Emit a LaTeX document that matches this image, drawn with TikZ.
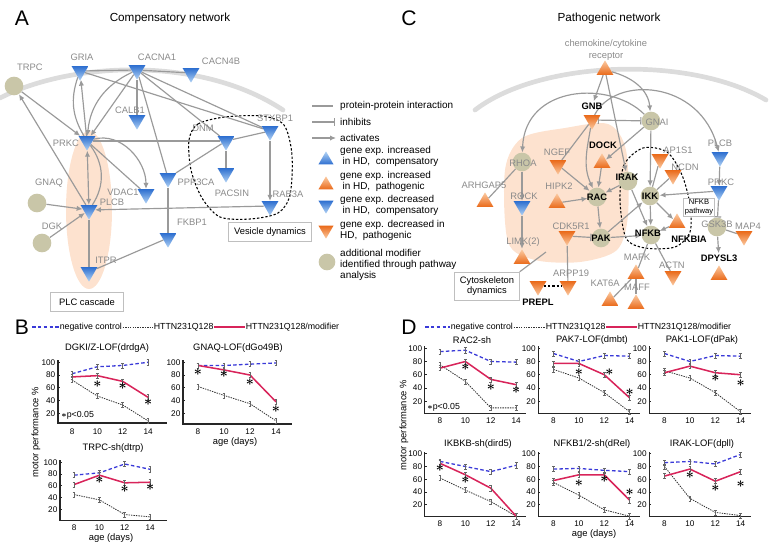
\documentclass[tikz,border=0pt]{standalone}
\usepackage{fontspec}
\setmainfont{Liberation Sans}
\usepackage{amsmath}
\usetikzlibrary{arrows.meta,shapes.geometric,backgrounds}

\definecolor{edgegray}{HTML}{9A9A9A}
\definecolor{labgray}{HTML}{8A8A8A}
\definecolor{compdark}{HTML}{2E6FD0}
\definecolor{complight}{HTML}{B3D4F5}
\definecolor{pathdark}{HTML}{EA6A1A}
\definecolor{pathlight}{HTML}{FBCBA3}
\definecolor{modfill}{HTML}{C9C6A8}
\definecolor{peach}{HTML}{FDE2CF}
\definecolor{membr}{HTML}{DCDCDC}
\definecolor{negblue}{HTML}{3A3AD8}
\definecolor{modred}{HTML}{D8245A}

% error bar mark for the motor performance curves
\pgfdeclareplotmark{ebar}{%
  \pgfpathmoveto{\pgfqpoint{0pt}{-\pgfplotmarksize}}%
  \pgfpathlineto{\pgfqpoint{0pt}{\pgfplotmarksize}}%
  \pgfpathmoveto{\pgfqpoint{-1.2pt}{\pgfplotmarksize}}%
  \pgfpathlineto{\pgfqpoint{1.2pt}{\pgfplotmarksize}}%
  \pgfpathmoveto{\pgfqpoint{-1.2pt}{-\pgfplotmarksize}}%
  \pgfpathlineto{\pgfqpoint{1.2pt}{-\pgfplotmarksize}}%
  \pgfusepathqstroke}

\tikzset{
  tri/.style={regular polygon,regular polygon sides=3,minimum size=0.58cm,inner sep=0pt,draw=none},
  dncomp/.style={tri,shape border rotate=180,top color=compdark,bottom color=complight},
  upcomp/.style={tri,top color=complight,bottom color=compdark},
  dnpath/.style={tri,shape border rotate=180,top color=pathdark,bottom color=pathlight},
  uppath/.style={tri,top color=pathlight,bottom color=pathdark},
  modif/.style={circle,fill=modfill,minimum size=0.56cm,inner sep=0pt},
  glab/.style={text=labgray,font=\fontsize{8}{9}\selectfont,inner sep=1pt},
  blab/.style={text=black,font=\fontsize{8}{9}\selectfont\bfseries,inner sep=1pt},
  ppi/.style={draw=edgegray,line width=1pt},
  act/.style={ppi,-{Latex[length=1.8mm,width=1.6mm]}},
  actboth/.style={ppi,{Latex[length=1.8mm,width=1.6mm]}-{Latex[length=1.8mm,width=1.6mm]}},
  inh/.style={ppi,-{Bar[width=2.2mm]}},
  inhboth/.style={ppi,{Bar[width=2.2mm]}-{Bar[width=2.2mm]}},
  membrane/.style={draw=membr,line width=4pt,line cap=round},
  loopline/.style={draw=black,line width=0.9pt,dash pattern=on 2pt off 1.6pt},
  boxlab/.style={draw=black!25,fill=white,font=\fontsize{8}{9}\selectfont,align=center,inner sep=2pt},
  panel/.style={font=\fontsize{18}{18}\selectfont,inner sep=0pt},
  nettitle/.style={font=\fontsize{10}{12}\selectfont,inner sep=0pt},
  legtext/.style={font=\fontsize{8.5}{9.5}\selectfont,anchor=west,align=left,inner sep=0pt},
  serieslab/.style={font=\fontsize{7.5}{8}\selectfont,anchor=west,inner sep=0.5pt},
  ctitle/.style={font=\fontsize{8}{9}\selectfont,inner sep=1pt},
  ticklab/.style={font=\fontsize{7}{8}\selectfont,inner sep=1pt},
  axtitle/.style={font=\fontsize{8}{9}\selectfont,inner sep=1pt},
  chartaxis/.style={draw=black!85,line width=1.1pt},
  charttick/.style={draw=black!85,line width=0.5pt},
  ebars/.style={mark=ebar,mark size=2.2pt,mark options={solid,draw=black!60,line width=0.45pt}},
  negleg/.style={draw=negblue,line width=1.1pt,dash pattern=on 3pt off 2pt},
  httleg/.style={draw=black!80,line width=0.7pt,dash pattern=on 1.2pt off 0.9pt},
  modleg/.style={draw=modred,line width=1.3pt},
  negline/.style={negleg,ebars},
  httline/.style={httleg,ebars},
  modline/.style={modleg,ebars},
  sig/.style={font=\fontsize{12}{12}\selectfont,inner sep=0pt}
}

% axes of one motor performance chart: y-axis day, x-axis end, x-axis value, day label value
\newcommand{\chartaxes}[4]{%
  \draw[chartaxis] (#1,103) -- (#1,#3) -- (#2,#3);
  \foreach \v in {20,40,60,80,100}{
    \draw[charttick] (#1,\v) -- ++(0.15,0);
    \node[ticklab,anchor=east] at ({#1-0.1},\v) {\v};}
  \foreach \d in {8,10,12,14}
    \node[ticklab] at (\d,#4) {\d};}
% curves: negative control, HTT, HTT/modifier, stars
\newcommand{\chartlines}[4]{%
  \draw[httline] plot coordinates {#2};
  \draw[negline] plot coordinates {#1};
  \draw[modline] plot coordinates {#3};
  \foreach \p in {#4} \node[sig] at \p {$\boldsymbol{\ast}$};}

\begin{document}
\begin{tikzpicture}[x=0.03cm,y=-0.03cm]
\useasboundingbox (0,0) rectangle (771,548);

%% ---------------- A
\node[panel] (pA) at (22,18) {A};
\node[nettitle] (titA) at (170,18) {Compensatory network};

\node[dncomp] (gria) at (80,71) {};
\node[dncomp] (cacna) at (137,70) {};
\node[dncomp] (cacnb) at (191,73) {};
\node[modif] (trpc) at (14,86) {};
\node[dncomp] (calb) at (137,120) {};
\node[dncomp] (prkc) at (87,141) {};
\node[dncomp] (dnm) at (226,141) {};
\node[dncomp] (plcb) at (89,210) {};
\node[modif] (gnaq) at (37,203) {};
\node[modif] (dgk) at (42,243) {};
\node[dncomp] (vdac) at (146,194) {};
\node[dncomp] (ppp) at (168,178) {};
\node[dncomp] (pacsin) at (226,173) {};
\node[dncomp] (fkbp) at (168,238) {};
\node[dncomp] (itpr) at (89,272) {};
\node[dncomp] (stxbp) at (270,131) {};
\node[dncomp] (rab) at (270,206) {};

\node[glab] (tgria) at (82,57) {GRIA};
\node[glab] (tcacna) at (157,57) {CACNA1};
\node[glab] (tcacnb) at (221,61) {CACN4B};
\node[glab] (ttrpc) at (30,67) {TRPC};
\node[glab] (tcalb) at (130,110) {CALB1};
\node[glab] (tprkc) at (66,143) {PRKC};
\node[glab] (tdnm) at (203,128) {DNM};
\node[glab] (tplcb) at (112,202) {PLCB};
\node[glab] (tgnaq) at (49,183) {GNAQ};
\node[glab] (tdgk) at (52,226) {DGK};
\node[glab] (tvdac) at (123,192) {VDAC1};
\node[glab] (tppp) at (196,182) {PPP3CA};
\node[glab] (tpacsin) at (232,193) {PACSIN};
\node[glab] (tfkbp) at (192,222) {FKBP1};
\node[glab] (titpr) at (106,260) {ITPR};
\node[glab] (tstxbp) at (275,118) {STXBP1};
\node[glab] (trab) at (288,194) {RAB3A};

\node[boxlab,minimum width=2.2cm,minimum height=0.57cm] (plcbox) at (87,302) {PLC cascade};
\node[boxlab,minimum width=2.5cm,minimum height=0.57cm] (vesbox) at (270,232) {Vesicle dynamics};

\begin{pgfonlayer}{background}
\fill[peach] (89,210) ellipse [x radius=0.69cm,y radius=2.37cm];
\draw[membrane] (0,98) .. controls (70,62) and (200,55) .. (283,110);
\draw[loopline] plot[smooth cycle] coordinates {(189,140) (198,124) (225,117) (262,116) (284,125) (292,155) (290,195) (278,213) (250,219) (220,217) (202,198) (191,170)};
\draw[ppi] (gria) -- (cacna);
\draw[ppi] (cacna) -- (cacnb);
\draw[ppi] (gria) -- (stxbp);
\draw[ppi] (cacna) -- (stxbp);
\draw[ppi] (cacna) -- (dnm);
\draw[ppi] (cacna) -- (calb);
\draw[ppi] (cacna) -- (ppp);
\draw[act] (cacna) -- (prkc);
\draw[act] (cacna) to[bend right=30] (prkc);
\draw[act] (prkc) -- (gria);
\draw[ppi] (gria) to[bend right=25] (prkc);
\draw[act] (trpc) -- (prkc);
\draw[act] (plcb) -- (trpc);
\draw[actboth] (prkc) -- (plcb);
\draw[ppi] (prkc) to[bend left=35] (plcb);
\draw[act] (prkc) to[out=15,in=90] (vdac);
\draw[ppi] (prkc) -- (vdac);
\draw[ppi] (prkc) -- (dnm);
\draw[ppi] (ppp) -- (dnm);
\draw[ppi] (ppp) -- (fkbp);
\draw[ppi] (fkbp) -- (itpr);
\draw[ppi] (plcb) -- (itpr);
\draw[act] (gnaq) -- (plcb);
\draw[act] (dgk) -- (plcb);
\draw[act] (rab) -- (plcb);
\draw[ppi] (dnm) -- (pacsin);
\draw[ppi] (dnm) -- (stxbp);
\draw[act] (stxbp) -- (rab);
\end{pgfonlayer}

%% legend of the networks
\coordinate (lg1) at (312,106);
\coordinate (lg2) at (312,122);
\coordinate (lg3) at (312,138);
\draw[ppi] (lg1) -- ++(21,0);
\draw[inh] (lg2) -- ++(23,0);
\draw[act] (lg3) -- ++(24,0);
\node[legtext] (lppi) at (340,106) {protein-protein interaction};
\node[legtext] (linh) at (340,122) {inhibits};
\node[legtext] (lact) at (340,138) {activates};
\node[upcomp,minimum size=0.52cm] (kinc) at (326,160) {};
\node[uppath,minimum size=0.52cm] (kincp) at (326,185) {};
\node[dncomp,minimum size=0.52cm] (kdec) at (326,205) {};
\node[dnpath,minimum size=0.52cm] (kdecp) at (326,230) {};
\node[modif,minimum size=0.5cm] (kmod) at (327,262) {};
\node[legtext] (linc) at (340,156) {gene exp. increased\\\hspace*{2pt}in HD,\ \ compensatory};
\node[legtext] (lincp) at (340,181) {gene exp. increased\\\hspace*{2pt}in HD,\ \ pathogenic};
\node[legtext] (ldec) at (340,205) {gene exp. decreased\\\hspace*{2pt}in HD,\ \ compensatory};
\node[legtext] (ldecp) at (340,230) {gene exp. decreased in\\HD,\ \ pathogenic};
\node[legtext] (lmod) at (340,265) {additional modifier\\identified through pathway\\analysis};

%% ---------------- C
\node[panel] (pC) at (409,18) {C};
\node[nettitle] (titC) at (609,18) {Pathogenic network};
\node[glab,align=center,font=\fontsize{8}{10}\selectfont] (trec) at (606,50) {chemokine/cytokine\\receptor};

\node[uppath] (rec) at (605,70) {};
\node[dnpath] (gnb) at (592,120) {};
\node[modif] (gnai) at (651,121) {};
\node[uppath] (dock) at (602,163) {};
\node[modif] (rhoa) at (522,162) {};
\node[dnpath] (ngef) at (558,165) {};
\node[uppath] (arhgap) at (485,202) {};
\node[dncomp] (rock) at (522,206) {};
\node[uppath] (hipk) at (557,203) {};
\node[modif] (rac) at (597,197) {};
\node[uppath] (limk) at (522,259) {};
\node[dnpath] (cdk) at (567,236) {};
\node[modif] (pak) at (601,238) {};
\node[dnpath] (arpp) at (568,286) {};
\node[dnpath] (prepl) at (538,286) {};
\node[modif] (irak) at (628,181) {};
\node[modif] (ikk) at (650,196) {};
\node[modif] (nfkb) at (651,235) {};
\node[uppath] (nfkbia) at (677,223) {};
\node[dnpath] (ap1s1) at (660,159) {};
\node[dnpath] (ncdn) at (673,175) {};
\node[dncomp] (plcbc) at (720,157) {};
\node[dncomp] (prkcc) at (719,191) {};
\node[modif] (gsk) at (717,227) {};
\node[dnpath] (map4) at (744,236) {};
\node[uppath] (dpysl) at (719,275) {};
\node[uppath] (mafk) at (636,274) {};
\node[dnpath] (actn) at (673,276) {};
\node[uppath] (kat6a) at (610,301) {};
\node[uppath] (maff) at (636,304) {};

\node[blab] (tgnb) at (592,106) {GNB};
\node[glab] (tgnai) at (657,122) {GNAI};
\node[blab] (tdock) at (603,145) {DOCK};
\node[glab] (trhoa) at (523,163) {RHOA};
\node[glab] (tngef) at (557,152) {NGEF};
\node[glab] (tarhgap) at (484,185) {ARHGAP5};
\node[glab] (trock) at (524,196) {ROCK};
\node[glab] (thipk) at (559,186) {HIPK2};
\node[blab] (trac) at (597,197) {RAC};
\node[glab] (tlimk) at (523,242) {LIMK(2)};
\node[glab] (tcdk) at (571,226) {CDK5R1};
\node[blab] (tpak) at (601,238) {PAK};
\node[glab] (tarpp) at (571,273) {ARPP19};
\node[blab] (tprepl) at (538,302) {PREPL};
\node[blab] (tirak) at (627,177) {IRAK};
\node[blab] (tikk) at (650,196) {IKK};
\node[blab] (tnfkb) at (648,233) {NFKB};
\node[blab] (tnfkbia) at (689,239) {NFKBIA};
\node[glab] (tap1s1) at (678,150) {AP1S1};
\node[glab] (tncdn) at (685,167) {NCDN};
\node[glab] (tplcbc) at (720,143) {PLCB};
\node[glab] (tprkcc) at (721,182) {PRKC};
\node[glab] (tgsk) at (717,224) {GSK3B};
\node[glab] (tmap4) at (748,226) {MAP4};
\node[blab] (tdpysl) at (719,258) {DPYSL3};
\node[glab] (tmafk) at (637,257) {MAFK};
\node[glab] (tactn) at (672,265) {ACTN};
\node[glab] (tkat6a) at (605,283) {KAT6A};
\node[glab] (tmaff) at (637,287) {MAFF};

\node[boxlab,minimum width=1.95cm,minimum height=0.84cm] (cytobox) at (487,286) {Cytoskeleton\\dynamics};
\node[draw=black!25,fill=white,font=\fontsize{6.5}{7.5}\selectfont,align=center,inner sep=1pt] (nfkbpw) at (699,207) {NFKB\\pathway};
\coordinate (cytoend) at (546,252);

\begin{pgfonlayer}{background}
\fill[peach] plot[smooth cycle] coordinates {(505,170) (522,138) (565,128) (608,124) (626,150) (628,215) (617,250) (580,262) (535,260) (508,242)};
\draw[membrane] (475,110) .. controls (540,60) and (690,55) .. (766,100);
\draw[loopline] plot[smooth cycle] coordinates {(620,200) (624,165) (643,148) (667,152) (682,175) (690,205) (690,232) (675,247) (645,248) (626,238)};
\draw[ppi] (cytobox.north east) -- (cytoend);
\draw[act] (rec) -- (tgnb);
\draw[act] (rec) to[out=-15,in=95] (gnai);
\draw[act] (rec) -- (irak);
\draw[act] (gnai) .. controls (610,80) and (525,85) .. (rhoa);
\draw[act] (gnb) .. controls (615,75) and (700,80) .. (plcbc);
\draw[inhboth] (gnb) -- (gnai);
\draw[ppi] (gnb) -- (ngef);
\draw[act] (gnb) to[out=-100,in=115] (rac);
\draw[act] (gnai) -- (dock);
\draw[act] (gnai) -- (ikk);
\draw[act] (dock) -- (rac);
\draw[act] (irak) -- (rac);
\draw[act] (irak) -- (nfkb);
\draw[act] (hipk) -- (rac);
\draw[act] (ngef) -- (rac);
\draw[act] (rhoa) -- (rock);
\draw[act] (rock) -- (limk);
\draw[ppi] (arhgap) -- (rhoa);
\draw[act] (rac) -- (pak);
\draw[inh] (cdk) -- (pak);
\draw[ppi] (cdk) -- (arpp);
\draw[loopline] (prepl) -- (arpp);
\draw[act] (pak) -- (ikk);
\draw[act] (pak) -- (nfkb);
\draw[act] (ikk) -- (nfkb);
\draw[act] (ikk) -- (nfkbia);
\draw[act] (nfkbia) -- (nfkb);
\draw[ppi] (ikk) -- (ap1s1);
\draw[ppi] (ikk) -- (ncdn);
\draw[act] (plcbc) -- (prkcc);
\draw[act] (prkcc) -- (ikk);
\draw[inh] (prkcc) -- (gsk);
\draw[ppi] (gsk) -- (map4);
\draw[act] (gsk) -- (tdpysl);
\draw[ppi] (nfkb) -- (mafk);
\draw[ppi] (nfkb) -- (actn);
\draw[ppi] (mafk) -- (kat6a);
\draw[ppi] (mafk) -- (maff);
\end{pgfonlayer}

%% ---------------- B
\node[panel] (pB) at (22,327) {B};
\coordinate (bl0) at (32,327);
\node[serieslab] (bneg) at (59,327) {negative control};
\node[serieslab] (bhtt) at (153,327) {HTTN231Q128};
\node[serieslab] (bmod) at (245,327) {HTTN231Q128/modifier};
\draw[negleg] (bl0) -- (bneg.west);
\draw[httleg] (bneg.east) -- (bhtt.west);
\draw[modleg] (bhtt.east) -- (bmod.west);

\node[ctitle] (tb1) at (107,348) {DGKI/Z-LOF(drdgA)};
\node[ctitle] (tb2) at (238,348) {GNAQ-LOF(dGo49B)};
\node[ctitle] (tb3) at (113,448) {TRPC-sh(dtrp)};
\node[axtitle] (ab2) at (235,442) {age (days)};
\node[axtitle] (ab3) at (111,538) {age (days)};
\node[axtitle,rotate=90] (yb) at (36,432) {motor performance \%};
\node[ticklab,anchor=west,font=\fontsize{7.5}{8}\selectfont] (pb) at (60,415) {$\boldsymbol{\ast}$p<0.05};

\begin{scope}[shift={(-29.3,426)},x=0.3801cm,y=0.019125cm]
  \chartaxes{6.88}{15.5}{4.5}{-8.5}
  \chartlines{(8,82)(10,93)(12,95)(14,100)}{(8,72)(10,47)(12,33)(14,8)}{(8,77)(10,79)(12,70)(14,45)}{(10,66),(12,62),(14,38)}
\end{scope}
\begin{scope}[shift={(94,426)},x=0.39cm,y=0.019125cm]
  \chartaxes{6.85}{15.2}{3}{-8.5}
  \chartlines{(8,95)(10,95)(12,97)(14,99)}{(8,62)(10,48)(12,35)(14,8)}{(8,95)(10,88)(12,80)(14,38)}{(8,84),(10,81),(12,69),(14,27)}
\end{scope}
\begin{scope}[shift={(-27.3,521)},x=0.3801cm,y=0.017625cm]
  \chartaxes{6.89}{15.3}{0.5}{-12}
  \chartlines{(8,78)(10,82)(12,97)(14,88)}{(8,45)(10,36)(12,11)(14,7)}{(8,62)(10,78)(12,65)(14,66)}{(10,70),(12,54),(14,58)}
\end{scope}

%% ---------------- D
\node[panel] (pD) at (409,327) {D};
\coordinate (dl0) at (425,327);
\node[serieslab] (dneg) at (450,327) {negative control};
\node[serieslab] (dhtt) at (545,327) {HTTN231Q128};
\node[serieslab] (dmod) at (637,327) {HTTN231Q128/modifier};
\draw[negleg] (dl0) -- (dneg.west);
\draw[httleg] (dneg.east) -- (dhtt.west);
\draw[modleg] (dhtt.east) -- (dmod.west);

\node[ctitle] (td1) at (472,340) {RAC2-sh};
\node[ctitle] (td2) at (592,340) {PAK7-LOF(dmbt)};
\node[ctitle] (td3) at (702,340) {PAK1-LOF(dPak)};
\node[ctitle] (td4) at (478,444) {IKBKB-sh(dird5)};
\node[ctitle] (td5) at (592,444) {NFKB1/2-sh(dRel)};
\node[ctitle] (td6) at (702,444) {IRAK-LOF(dpll)};
\node[axtitle] (ad) at (594,534) {age (days)};
\node[axtitle,rotate=90] (yd) at (404,425) {motor performance \%};
\node[ticklab,anchor=west,font=\fontsize{7.5}{8}\selectfont] (pd) at (426,407) {$\boldsymbol{\ast}$p<0.05};

\begin{scope}[shift={(338.4,414.5)},x=0.381cm,y=0.019875cm]
  \chartaxes{6.8}{14.8}{2}{-10}
  \chartlines{(8,95)(10,97)(12,80)(14,79)}{(8,75)(10,50)(12,10)(14,10)}{(8,70)(10,80)(12,53)(14,45)}{(10,71),(12,41),(14,36)}
\end{scope}
\begin{scope}[shift={(451.9,414.5)},x=0.381cm,y=0.019875cm]
  \chartaxes{6.8}{14.8}{2}{-10}
  \chartlines{(8,92)(10,80)(12,89)(14,88)}{(8,68)(10,55)(12,33)(14,4)}{(8,77)(10,77)(12,60)(14,25)}{(10,64),(12.4,64),(14,33)}
\end{scope}
\begin{scope}[shift={(562.9,414.5)},x=0.381cm,y=0.019875cm]
  \chartaxes{6.8}{14.8}{2}{-10}
  \chartlines{(8,92)(10,80)(12,89)(14,88)}{(8,66)(10,55)(12,33)(14,4)}{(8,63)(10,73)(12,63)(14,60)}{(12,55),(14,48)}
\end{scope}
\begin{scope}[shift={(338.4,517.5)},x=0.381cm,y=0.019125cm]
  \chartaxes{6.8}{14.8}{1.5}{-10}
  \chartlines{(8,88)(10,80)(12,72)(14,82)}{(8,62)(10,43)(12,25)(14,2)}{(8,85)(10,67)(12,46)(14,2)}{(8,78),(10,59)}
\end{scope}
\begin{scope}[shift={(451.9,517.5)},x=0.381cm,y=0.019125cm]
  \chartaxes{6.8}{14.8}{1.5}{-10}
  \chartlines{(8,76)(10,77)(12,74)(14,72)}{(8,55)(10,35)(12,12)(14,2)}{(8,58)(10,67)(12,67)(14,27)}{(10,54),(12,60),(14,40)}
\end{scope}
\begin{scope}[shift={(562.9,517.5)},x=0.381cm,y=0.019125cm]
  \chartaxes{6.8}{14.8}{1.5}{-10}
  \chartlines{(8,86)(10,88)(12,84)(14,99)}{(8,80)(10,30)(12,8)(14,3)}{(8,65)(10,76)(12,57)(14,72)}{(10,67),(12,46),(14,52)}
\end{scope}
\end{tikzpicture}
\end{document}
